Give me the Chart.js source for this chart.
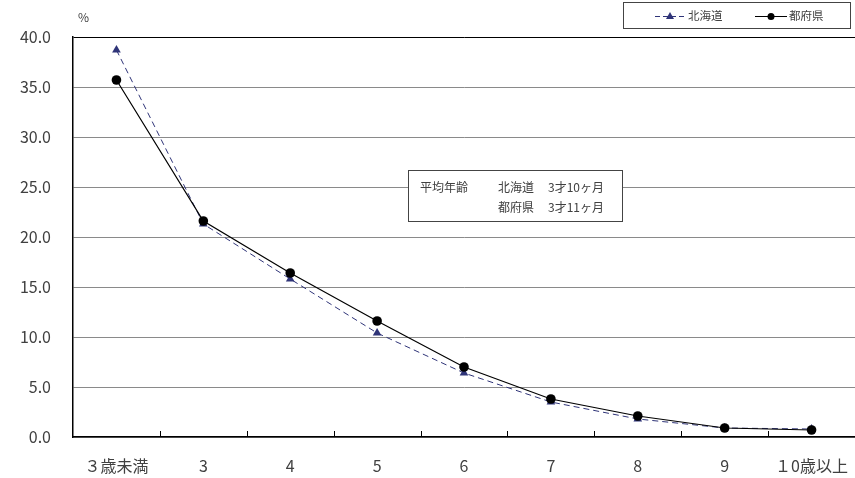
<!DOCTYPE html>
<html>
<head>
<meta charset="utf-8">
<script src="https://cdn.jsdelivr.net/npm/chart.js@4"></script>
<style>
  html, body { margin: 0; padding: 0; background: #fff; }
  #wrap { width: 855px; height: 478px; position: relative; }
</style>
</head>
<body>
<div id="wrap"><canvas id="grafica" width="855" height="478"></canvas></div>
<script>
// datos
const categorias = ['３歳未満', '3', '4', '5', '6', '7', '8', '9', '１0歳以上'];
const hokkaido = [38.7, 21.3, 15.8, 10.4, 6.4, 3.5, 1.8, 0.9, 0.8];
const tofuken = [35.7, 21.6, 16.4, 11.6, 7.0, 3.8, 2.1, 0.9, 0.7];
const nombres = ['北海道', '都府県'];
const notaTitulo = '平均年齢';
const notaLineas = [['北海道', '3才10ヶ月'], ['都府県', '3才11ヶ月']];

const FUENTE = '"Noto Sans CJK JP", "Noto Sans", sans-serif';
const AZUL = '#2f3478';

// marcas de eje, leyenda y cuadro de nota
const extras = {
  id: 'extras',
  afterDraw(chart) {
    const ctx = chart.ctx;
    const area = chart.chartArea;
    const x = chart.scales.x;
    ctx.save();

    // marcas hacia dentro entre categorias
    ctx.strokeStyle = '#000';
    ctx.lineWidth = 1;
    for (let i = 1; i < categorias.length; i++) {
      const px = Math.round((x.getPixelForValue(i - 1) + x.getPixelForValue(i)) / 2) + 0.5;
      ctx.beginPath();
      ctx.moveTo(px, area.bottom);
      ctx.lineTo(px, area.bottom - 6);
      ctx.stroke();
    }

    // %
    ctx.fillStyle = '#404040';
    ctx.font = '12px ' + FUENTE;
    ctx.textBaseline = 'middle';
    ctx.textAlign = 'left';
    ctx.fillText('%', 78, 17);

    // leyenda
    ctx.fillStyle = '#fff';
    ctx.fillRect(623.5, 2.5, 227, 26);
    ctx.strokeStyle = '#444';
    ctx.strokeRect(623.5, 2.5, 227, 26);
    ctx.font = '11.5px ' + FUENTE;
    ctx.fillStyle = '#404040';
    // 北海道
    ctx.strokeStyle = AZUL;
    ctx.setLineDash([5, 3]);
    ctx.beginPath();
    ctx.moveTo(655, 16.5);
    ctx.lineTo(685, 16.5);
    ctx.stroke();
    ctx.setLineDash([]);
    ctx.fillStyle = AZUL;
    ctx.beginPath();
    ctx.moveTo(670, 12);
    ctx.lineTo(674, 19);
    ctx.lineTo(666, 19);
    ctx.closePath();
    ctx.fill();
    ctx.fillStyle = '#404040';
    ctx.fillText(nombres[0], 688, 16);
    // 都府県
    ctx.strokeStyle = '#000';
    ctx.beginPath();
    ctx.moveTo(755, 16.5);
    ctx.lineTo(787, 16.5);
    ctx.stroke();
    ctx.fillStyle = '#000';
    ctx.beginPath();
    ctx.arc(771, 16.5, 3.5, 0, Math.PI * 2);
    ctx.fill();
    ctx.fillStyle = '#404040';
    ctx.fillText(nombres[1], 789, 16);

    // nota
    ctx.fillStyle = '#fff';
    ctx.fillRect(408.5, 170.5, 214, 51);
    ctx.strokeStyle = '#444';
    ctx.strokeRect(408.5, 170.5, 214, 51);
    ctx.font = '12px ' + FUENTE;
    ctx.fillStyle = '#404040';
    ctx.fillText(notaTitulo, 420, 187);
    notaLineas.forEach((l, i) => {
      ctx.fillText(l[0], 498, 187 + i * 20);
      ctx.fillText(l[1], 548, 187 + i * 20);
    });

    ctx.restore();
  }
};

new Chart(document.getElementById('grafica'), {
  type: 'line',
  data: {
    labels: categorias,
    datasets: [
      {
        label: nombres[0],
        data: hokkaido,
        borderColor: AZUL,
        backgroundColor: AZUL,
        borderWidth: 1,
        borderDash: [6, 4],
        pointStyle: 'triangle',
        pointRadius: 5,
        pointBorderWidth: 0,
        tension: 0,
        clip: false,
        order: 2
      },
      {
        label: nombres[1],
        data: tofuken,
        borderColor: '#000',
        backgroundColor: '#000',
        borderWidth: 1.2,
        pointStyle: 'circle',
        pointRadius: 4.8,
        pointBorderWidth: 0,
        tension: 0,
        clip: false,
        order: 1
      }
    ]
  },
  options: {
    responsive: false,
    animation: false,
    devicePixelRatio: 1,
    layout: { autoPadding: false, padding: { top: 37, right: 0, bottom: 0, left: 0 } },
    plugins: {
      legend: { display: false },
      tooltip: { enabled: false }
    },
    scales: {
      x: {
        offset: true,
        grid: { display: false, drawTicks: false },
        border: { display: true, color: '#000', width: 1.5 },
        ticks: {
          padding: 19,
          color: '#404040',
          font: { family: FUENTE, size: 16 },
          maxRotation: 0,
          autoSkip: false
        },
        afterFit(scale) {
          scale.height = 41;
          scale.paddingLeft = 0;
          scale.paddingRight = 0;
        }
      },
      y: {
        min: 0,
        max: 40,
        ticks: {
          stepSize: 5,
          padding: 22,
          color: '#404040',
          font: { family: FUENTE, size: 16 },
          callback: (v) => v.toFixed(1)
        },
        grid: {
          drawTicks: false,
          color: (c) => (c.tick.value === 40 ? '#000' : '#8a8a8a'),
          lineWidth: 1
        },
        border: { display: true, color: '#000', width: 1.5 },
        afterFit(scale) { scale.width = 73; }
      }
    }
  },
  plugins: [extras]
});
</script>
</body>
</html>
